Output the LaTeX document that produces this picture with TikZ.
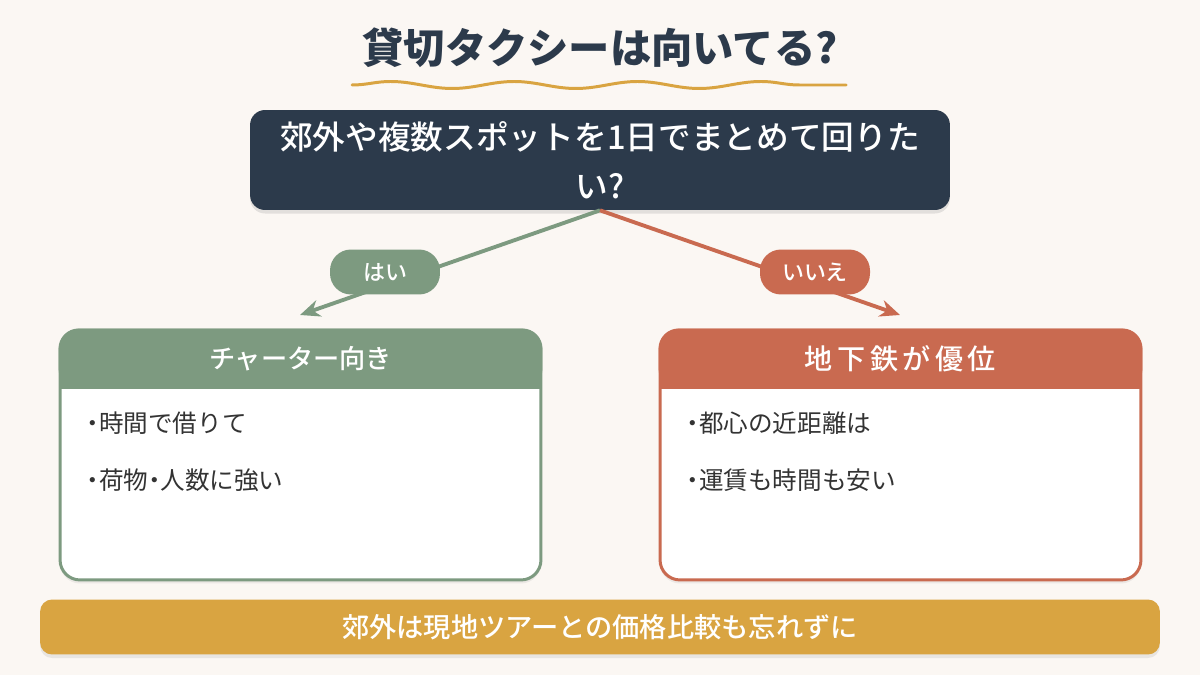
\documentclass[tikz,border=0pt]{standalone}
\usepackage{fontspec}
\setmainfont{Noto Sans CJK JP}
\newfontfamily\medjp{Noto Sans CJK JP Medium}
\newfontfamily\widejp[LetterSpace=16]{Noto Sans CJK JP Medium}
\newfontfamily\tightjp[RawFeature=+palt]{Noto Sans CJK JP}
\newcommand\dotmark{{\tightjp ・}}
\usetikzlibrary{arrows.meta,positioning,shadows,calc,decorations.pathmorphing}
\definecolor{paper}{RGB}{251,247,243}
\definecolor{slate}{RGB}{44,58,75}
\definecolor{sage}{RGB}{125,154,128}
\definecolor{rust}{RGB}{201,106,80}
\definecolor{mustard}{RGB}{217,164,65}
\definecolor{ink}{RGB}{51,51,51}
\tikzset{
  >={Stealth[length=4mm,width=3.4mm]},
  question/.style={fill=slate,text=white,rounded corners=0.3cm,minimum width=14cm,
    minimum height=2cm,align=center,font=\fontsize{18.6}{28}\medjp,
    drop shadow={opacity=0.2,shadow xshift=0pt,shadow yshift=-2pt}},
  pill/.style={fill=#1,text=white,rounded corners=0.42cm,minimum width=2.2cm,
    minimum height=0.9cm,font=\fontsize{12.5}{14}\medjp},
  pill/.default=sage,
  card/.style={draw=#1,fill=white,line width=1.7pt,rounded corners=0.4cm,
    minimum width=9.62cm,minimum height=5cm,
    drop shadow={opacity=0.12,shadow xshift=0pt,shadow yshift=-2pt}},
  card/.default=sage,
  head/.style={text=white,font=\fontsize{14.9}{17}\medjp},
  point/.style={anchor=west,text=ink,font=\fontsize{14}{16}\selectfont},
  branch/.style={->,line width=2.2pt,draw=#1},
  branch/.default=sage,
  banner/.style={fill=mustard,text=white,rounded corners=0.24cm,minimum width=22.4cm,
    minimum height=1.1cm,font=\fontsize{15.5}{18}\medjp,
    drop shadow={opacity=0.15,shadow xshift=0pt,shadow yshift=-2pt}},
}

\begin{document}
\begin{tikzpicture}[x=0.02cm,y=-0.02cm]
  \fill[paper] (0,0) rectangle (1200,675);
  % title
  \node[text=slate,font=\fontsize{23.5}{28}\selectfont\bfseries] (title) at (600,48) {貸切タクシーは向いてる?};
  \draw[mustard,line width=1.7pt,line cap=round,decorate,
    decoration={snake,segment length=2.47cm,amplitude=0.07cm}] (352,85) -- (846,85);
  % question and answers
  \node[question] (ask) at (600,160) {郊外や複数スポットを1日でまとめて回りた\\い?};
  \coordinate (yestip) at (300,315);
  \coordinate (notip) at (900,315);
  \draw[branch=sage] (ask.south) -- (yestip);
  \draw[branch=rust] (ask.south) -- (notip);
  \node[pill=sage] (yes) at (385,272) {はい};
  \node[pill=rust] (no) at (815,272) {いいえ};
  % result cards
  \node[card=sage] (charter) at (300.5,455) {};
  \fill[sage,rounded corners=0.4cm] (charter.north west) rectangle ($(charter.north east)+(0,60)$);
  \fill[sage] ($(charter.north west)+(0,30)$) rectangle ($(charter.north east)+(0,60)$);
  \node[head] at ($(charter.north)+(0,30)$) {チャーター向き};
  \node[point] at ($(charter.north west)+(22,95)$) {\dotmark 時間で借りて};
  \node[point] at ($(charter.north west)+(22,152)$) {\dotmark 荷物\dotmark 人数に強い};
  \node[card=rust] (subway) at (900.5,455) {};
  \fill[rust,rounded corners=0.4cm] (subway.north west) rectangle ($(subway.north east)+(0,60)$);
  \fill[rust] ($(subway.north west)+(0,30)$) rectangle ($(subway.north east)+(0,60)$);
  \node[head,font=\fontsize{16}{18}\widejp] at ($(subway.north)+(0,30)$) {地下鉄が優位};
  \node[point] at ($(subway.north west)+(22,95)$) {\dotmark 都心の近距離は};
  \node[point] at ($(subway.north west)+(22,152)$) {\dotmark 運賃も時間も安い};
  % note
  \node[banner] (note) at (600,627) {郊外は現地ツアーとの価格比較も忘れずに};
\end{tikzpicture}
\end{document}
